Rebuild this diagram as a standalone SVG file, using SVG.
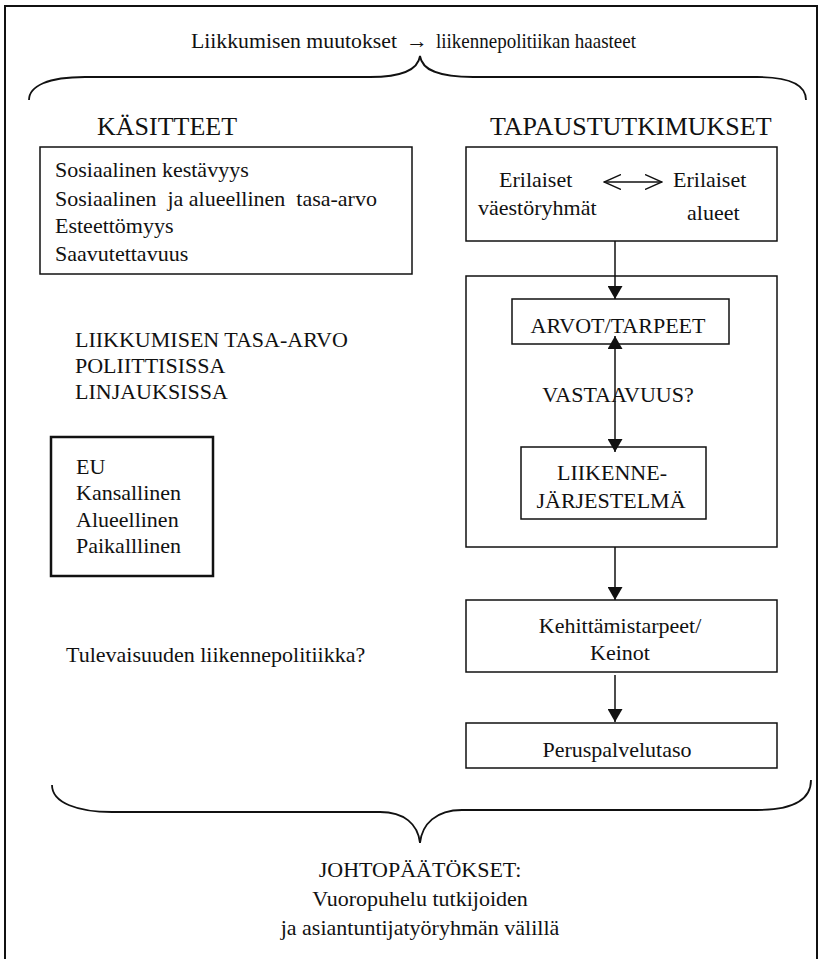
<svg xmlns="http://www.w3.org/2000/svg" width="822" height="959" viewBox="0 0 822 959">
  <style>
    text { font-family: "Liberation Serif", "Times New Roman", serif; fill: #111; }
    .body { font-size: 22px; }
    .head { font-size: 26px; }
    .mid { text-anchor: middle; }
    .box { fill: #fff; stroke: #111; stroke-width: 1.5; }
    .boxb { fill: #fff; stroke: #111; stroke-width: 2.5; }
    .brace { fill: none; stroke: #111; stroke-width: 1.8; }
    .conn { fill: none; stroke: #111; stroke-width: 1.5; }
  </style>
  <defs>
    <marker id="tri" viewBox="0 0 13 15" refX="13" refY="7.5" markerWidth="13" markerHeight="15" markerUnits="userSpaceOnUse" orient="auto-start-reverse">
      <path d="M0,0 L13,7.5 L0,15 Z" fill="#111"/>
    </marker>
    <marker id="chev" viewBox="0 0 18 16" refX="17" refY="8" markerWidth="18" markerHeight="16" markerUnits="userSpaceOnUse" orient="auto-start-reverse">
      <path d="M0,0.5 L17,8 L0,15.5" fill="none" stroke="#111" stroke-width="1.4"/>
    </marker>
  </defs>

  <rect width="822" height="959" fill="#fff"/>
  <!-- outer frame (open at the bottom edge) -->
  <rect x="5" y="6" width="812" height="970" fill="none" stroke="#111" stroke-width="2"/>

  <!-- title line -->
  <g id="title">
    <text class="body" x="191" y="48" textLength="206" lengthAdjust="spacingAndGlyphs">Liikkumisen muutokset</text>
    <text class="body" x="406" y="48">→</text>
    <text class="body" x="436" y="48" textLength="200" lengthAdjust="spacingAndGlyphs">liikennepolitiikan haasteet</text>
  </g>

  <!-- braces -->
  <path class="brace" d="M29,100 C29,86 48,77 85,77 L370,77 C402,77 418,70 420,56 C422,70 438,77 473,77 L757,77 C792,77 806,86 806,100"/>
  <path class="brace" d="M52,785 C52,803 78,812 112,812 L380,812 C404,812 418,824 420,843 C422,824 436,810 462,810 L757,810 C792,810 811,800 811,780"/>

  <!-- left column -->
  <g id="kasitteet">
    <text class="head" x="97" y="135">KÄSITTEET</text>
  </g>
  <g id="concepts">
    <rect class="box" x="40" y="147" width="372" height="127"/>
    <text class="body" x="55" y="177">Sosiaalinen kestävyys</text>
    <text class="body" x="55" y="206" xml:space="preserve">Sosiaalinen  ja alueellinen  tasa-arvo</text>
    <text class="body" x="55" y="233">Esteettömyys</text>
    <text class="body" x="55" y="261">Saavutettavuus</text>
  </g>
  <g id="policy">
    <text class="body" x="75" y="347">LIIKKUMISEN TASA-ARVO</text>
    <text class="body" x="75" y="373">POLIITTISISSA</text>
    <text class="body" x="75" y="399">LINJAUKSISSA</text>
  </g>
  <g id="levels">
    <rect class="boxb" x="51" y="437" width="162" height="139"/>
    <text class="body" x="76" y="474">EU</text>
    <text class="body" x="76" y="500">Kansallinen</text>
    <text class="body" x="76" y="527">Alueellinen</text>
    <text class="body" x="76" y="553">Paikalllinen</text>
  </g>
  <g id="future">
    <text class="body" x="66" y="662">Tulevaisuuden liikennepolitiikka?</text>
  </g>

  <!-- right column -->
  <g id="tapaus">
    <text class="head" x="490" y="135">TAPAUSTUTKIMUKSET</text>
  </g>
  <g id="groups">
    <rect class="box" x="466" y="147" width="311" height="94"/>
    <text class="body" x="499" y="187">Erilaiset</text>
    <text class="body" x="478" y="215">väestöryhmät</text>
    <text class="body" x="673" y="187">Erilaiset</text>
    <text class="body" x="687" y="220">alueet</text>
  </g>
  <g id="frame-box">
    <rect class="box" x="466" y="276" width="311" height="271"/>
  </g>
  <g id="arvot">
    <rect class="box" x="512" y="299" width="217" height="45"/>
    <text class="body mid" x="618" y="333">ARVOT/TARPEET</text>
  </g>
  <g id="vastaavuus">
    <text class="body mid" x="618" y="402">VASTAAVUUS?</text>
  </g>
  <g id="liikenne">
    <rect class="box" x="521" y="447" width="185" height="72"/>
    <text class="body mid" x="612" y="480">LIIKENNE-</text>
    <text class="body mid" x="611" y="508">JÄRJESTELMÄ</text>
  </g>
  <g id="kehittamis">
    <rect class="box" x="466" y="600" width="311" height="72"/>
    <text class="body mid" x="620" y="633">Kehittämistarpeet/</text>
    <text class="body mid" x="620" y="660">Keinot</text>
  </g>
  <g id="perus">
    <rect class="box" x="466" y="723" width="311" height="45"/>
    <text class="body mid" x="617" y="757">Peruspalvelutaso</text>
  </g>

  <!-- bottom conclusions -->
  <g id="johto">
    <text class="body mid" x="420" y="877">JOHTOPÄÄTÖKSET:</text>
    <text class="body mid" x="420" y="906">Vuoropuhelu tutkijoiden</text>
    <text class="body mid" x="420" y="935">ja asiantuntijatyöryhmän välillä</text>
  </g>

  <!-- connectors -->
  <g id="connectors">
    <line class="conn" x1="604" y1="182" x2="662" y2="182" marker-start="url(#chev)" marker-end="url(#chev)"/>
    <line class="conn" x1="615" y1="241" x2="615" y2="299" marker-end="url(#tri)"/>
    <line class="conn" x1="615" y1="336" x2="615" y2="452" marker-start="url(#tri)" marker-end="url(#tri)"/>
    <line class="conn" x1="615" y1="547" x2="615" y2="600" marker-end="url(#tri)"/>
    <line class="conn" x1="615" y1="675" x2="615" y2="722" marker-end="url(#tri)"/>
  </g>
</svg>
